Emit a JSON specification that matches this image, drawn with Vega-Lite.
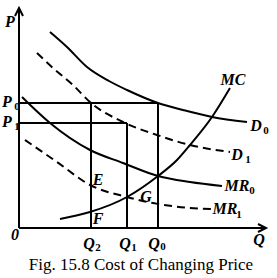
{
  "$schema": "https://vega.github.io/schema/vega-lite/v6.json",
  "width": 277,
  "height": 278,
  "padding": 0,
  "autosize": {"type": "none"},
  "background": "white",
  "config": {"view": {"stroke": null}},
  "datasets": {
    "solid": [
      {"s": "D0", "i": 1, "q": 31, "p": 196},
      {"s": "D0", "i": 2, "q": 48, "p": 181},
      {"s": "D0", "i": 3, "q": 68, "p": 161},
      {"s": "D0", "i": 4, "q": 90, "p": 147},
      {"s": "D0", "i": 5, "q": 108, "p": 138},
      {"s": "D0", "i": 6, "q": 139, "p": 125},
      {"s": "D0", "i": 7, "q": 164, "p": 118},
      {"s": "D0", "i": 8, "q": 193, "p": 111},
      {"s": "D0", "i": 9, "q": 228, "p": 106},
      {"s": "MR0", "i": 1, "q": 3, "p": 131},
      {"s": "MR0", "i": 2, "q": 31, "p": 105},
      {"s": "MR0", "i": 3, "q": 71, "p": 78},
      {"s": "MR0", "i": 4, "q": 104, "p": 65},
      {"s": "MR0", "i": 5, "q": 139, "p": 52},
      {"s": "MR0", "i": 6, "q": 171, "p": 46},
      {"s": "MR0", "i": 7, "q": 203, "p": 42},
      {"s": "MC", "i": 1, "q": 41, "p": 9},
      {"s": "MC", "i": 2, "q": 71, "p": 16},
      {"s": "MC", "i": 3, "q": 108, "p": 31},
      {"s": "MC", "i": 4, "q": 139, "p": 52},
      {"s": "MC", "i": 5, "q": 158, "p": 68},
      {"s": "MC", "i": 6, "q": 171, "p": 83},
      {"s": "MC", "i": 7, "q": 193, "p": 111},
      {"s": "MC", "i": 8, "q": 211, "p": 140}
    ],
    "dashed": [
      {"s": "D1", "i": 1, "q": 18, "p": 175},
      {"s": "D1", "i": 2, "q": 34, "p": 160},
      {"s": "D1", "i": 3, "q": 54, "p": 143},
      {"s": "D1", "i": 4, "q": 72, "p": 125},
      {"s": "D1", "i": 5, "q": 104, "p": 106},
      {"s": "D1", "i": 6, "q": 138, "p": 93},
      {"s": "D1", "i": 7, "q": 171, "p": 83},
      {"s": "D1", "i": 8, "q": 211, "p": 76},
      {"s": "MR1", "i": 1, "q": 6, "p": 88},
      {"s": "MR1", "i": 2, "q": 38, "p": 66},
      {"s": "MR1", "i": 3, "q": 71, "p": 43},
      {"s": "MR1", "i": 4, "q": 108, "p": 31},
      {"s": "MR1", "i": 5, "q": 134, "p": 25},
      {"s": "MR1", "i": 6, "q": 171, "p": 20},
      {"s": "MR1", "i": 7, "q": 193, "p": 19}
    ],
    "axes": [
      {"s": "y", "i": 1, "q": 0, "p": 0},
      {"s": "y", "i": 2, "q": 0, "p": 220},
      {"s": "ya", "i": 1, "q": -4, "p": 212},
      {"s": "ya", "i": 2, "q": 0, "p": 220},
      {"s": "ya", "i": 3, "q": 4, "p": 212},
      {"s": "x", "i": 1, "q": 0, "p": 0},
      {"s": "x", "i": 2, "q": 246, "p": 0},
      {"s": "xa", "i": 1, "q": 239, "p": 4},
      {"s": "xa", "i": 2, "q": 247, "p": 0},
      {"s": "xa", "i": 3, "q": 239, "p": -4}
    ],
    "segments": [
      {"q": 0, "p": 125, "q2": 139, "p2": 125},
      {"q": 139, "p": 0, "q2": 139, "p2": 125},
      {"q": 72, "p": 0, "q2": 72, "p2": 125},
      {"q": 0, "p": 105, "q2": 108, "p2": 105},
      {"q": 108, "p": 0, "q2": 108, "p2": 105}
    ],
    "labels": [
      {"t": "P", "q": -9, "p": 206},
      {"t": "0", "q": -4, "p": -7},
      {"t": "Q", "q": 240, "p": -12},
      {"t": "P", "q": -12, "p": 126},
      {"t": "P", "q": -12, "p": 106},
      {"t": "Q", "q": 70, "p": -16},
      {"t": "Q", "q": 106, "p": -16},
      {"t": "Q", "q": 135, "p": -16},
      {"t": "MC", "q": 214, "p": 148},
      {"t": "D", "q": 237, "p": 102},
      {"t": "D", "q": 218, "p": 73},
      {"t": "MR", "q": 218, "p": 42},
      {"t": "MR", "q": 206, "p": 19},
      {"t": "E", "q": 79, "p": 48},
      {"t": "F", "q": 79, "p": 9},
      {"t": "G", "q": 127, "p": 31}
    ],
    "subs": [
      {"t": "0", "q": -2, "p": 121},
      {"t": "1", "q": -2, "p": 101},
      {"t": "2", "q": 79, "p": -20},
      {"t": "1", "q": 115, "p": -20},
      {"t": "0", "q": 144, "p": -19},
      {"t": "0", "q": 247, "p": 97},
      {"t": "1", "q": 229, "p": 68},
      {"t": "0", "q": 233, "p": 37},
      {"t": "1", "q": 220, "p": 13}
    ],
    "caption": [
      {"t": "Fig. 15.8 Cost of Changing Price", "q": 122, "p": -37}
    ]
  },
  "encoding": {
    "x": {"field": "q", "type": "quantitative", "scale": {"domain": [-19, 258], "nice": false, "zero": false}, "axis": null},
    "y": {"field": "p", "type": "quantitative", "scale": {"domain": [-50, 228], "nice": false, "zero": false}, "axis": null}
  },
  "layer": [
    {
      "data": {"name": "segments"},
      "mark": {"type": "rule", "color": "black", "strokeWidth": 2},
      "encoding": {"x2": {"field": "q2"}, "y2": {"field": "p2"}}
    },
    {
      "data": {"name": "axes"},
      "mark": {"type": "line", "color": "black", "strokeWidth": 2},
      "encoding": {"detail": {"field": "s"}, "order": {"field": "i"}}
    },
    {
      "data": {"name": "solid"},
      "mark": {"type": "line", "color": "black", "strokeWidth": 2, "interpolate": "monotone"},
      "encoding": {"detail": {"field": "s"}, "order": {"field": "i"}}
    },
    {
      "data": {"name": "dashed"},
      "mark": {"type": "line", "color": "black", "strokeWidth": 2, "strokeDash": [8, 5], "interpolate": "monotone"},
      "encoding": {"detail": {"field": "s"}, "order": {"field": "i"}}
    },
    {
      "data": {"name": "labels"},
      "mark": {"type": "text", "font": "Liberation Serif", "fontSize": 16, "fontWeight": "bold", "fontStyle": "italic", "align": "center", "baseline": "middle", "color": "black"},
      "encoding": {"text": {"field": "t"}}
    },
    {
      "data": {"name": "subs"},
      "mark": {"type": "text", "font": "Liberation Serif", "fontSize": 11, "fontWeight": "bold", "align": "center", "baseline": "middle", "color": "black"},
      "encoding": {"text": {"field": "t"}}
    },
    {
      "data": {"name": "caption"},
      "mark": {"type": "text", "font": "Liberation Serif", "fontSize": 17, "align": "center", "baseline": "middle", "color": "black"},
      "encoding": {"text": {"field": "t"}}
    }
  ]
}
